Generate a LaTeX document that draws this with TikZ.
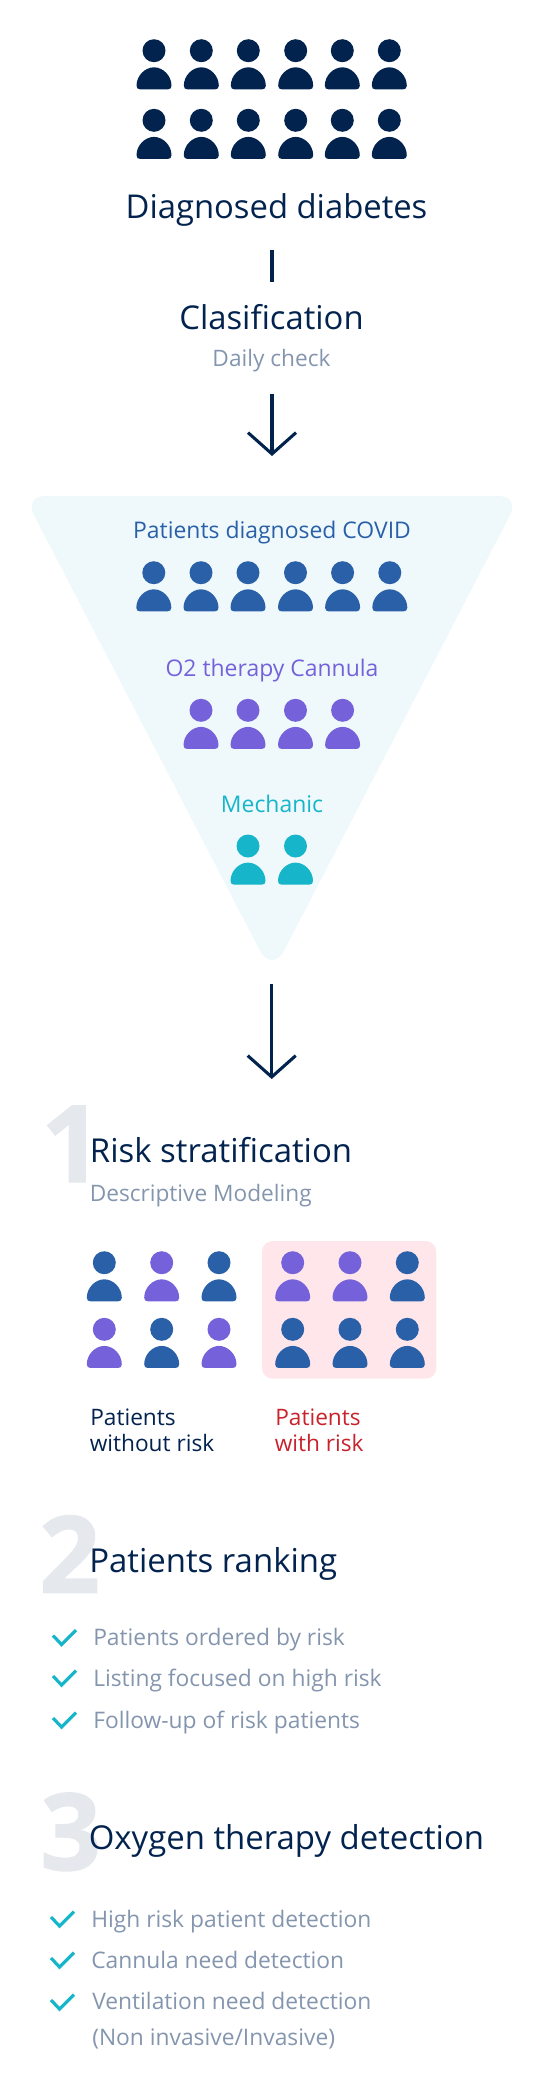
\documentclass[tikz,border=0pt]{standalone}
\usepackage{xcolor}
\usepackage{fontspec}
\usepackage{tikz}
\usetikzlibrary{arrows.meta, positioning}
\setmainfont{Open Sans}
\newfontfamily\numfont[BoldFeatures={FakeBold=1.2}]{Open Sans}
\definecolor{mynavy}{RGB}{3,35,79}
\definecolor{myblue}{RGB}{42,96,168}
\definecolor{mypurple}{RGB}{117,98,218}
\definecolor{myteal}{RGB}{23,181,201}
\definecolor{mygrey}{RGB}{132,149,174}
\definecolor{myred}{RGB}{200,35,44}
\definecolor{numgrey}{RGB}{229,232,237}
\definecolor{hdrfunnel}{RGB}{239,249,252}
\definecolor{hdrpink}{RGB}{255,230,234}
\tikzset{
  patient/.pic={
    \fill[pic actions] (0,0) circle (11.5);
    \fill[pic actions] (-17.5,35) .. controls (-17.5,25) and (-9,16.6) .. (0,16.6)
      .. controls (9,16.6) and (17.5,25) .. (17.5,35)
      .. controls (17.5,37.5) and (16,38.6) .. (14,38.6) -- (-14,38.6)
      .. controls (-16,38.6) and (-17.5,37.5) .. (-17.5,35) -- cycle;
  },
  navyp/.style={fill=mynavy},
  bluep/.style={fill=myblue},
  purp/.style={fill=mypurple},
  tealp/.style={fill=myteal},
  title/.style={anchor=base, color=mynavy, inner sep=0pt, font=\fontsize{24.6}{28}\selectfont},
  head/.style={anchor=base west, color=mynavy, inner sep=0pt, font=\fontsize{24.7}{28}\selectfont},
  subhead/.style={anchor=base west, color=mygrey, inner sep=0pt, font=\fontsize{17}{20}\selectfont},
  funlabel/.style={anchor=base, inner sep=0pt, font=\fontsize{17.2}{20}\selectfont},
  risklabel/.style={anchor=base west, inner sep=0pt, font=\fontsize{17}{20}\selectfont},
  item/.style={anchor=base west, color=mygrey, inner sep=0pt, font=\fontsize{17.1}{20}\selectfont},
  bignum/.style={anchor=base west, color=numgrey, inner sep=0pt, font=\fontsize{80}{90}\numfont\bfseries\selectfont},
  check/.style={color=myteal, line width=2.4pt},
  arrow/.style={-{Straight Barb[length=16pt,width=36pt,line width=2.3pt]}, line width=2.3pt, color=mynavy},
  line/.style={line width=2.3pt, color=mynavy}
}
\begin{document}
\begin{tikzpicture}[x=0.75pt, y=-0.75pt]
  \useasboundingbox (0,0) rectangle (542,2096);
  % Diagnosed group
  \pic[navyp] at (154,50.7) {patient};  \pic[navyp] at (201.3,50.7) {patient};  \pic[navyp] at (248.3,50.7) {patient};
  \pic[navyp] at (295.7,50.7) {patient};  \pic[navyp] at (342.3,50.7) {patient};  \pic[navyp] at (389.3,50.7) {patient};
  \pic[navyp] at (154,120.3) {patient};  \pic[navyp] at (201.3,120.3) {patient};  \pic[navyp] at (248.3,120.3) {patient};
  \pic[navyp] at (295.7,120.3) {patient};  \pic[navyp] at (342.3,120.3) {patient};  \pic[navyp] at (389.3,120.3) {patient};
  \node[title] (diagnosed) at (276.5,218.3) {Diagnosed diabetes};
  % Clasification
  \coordinate (linetop) at (272,250);
  \coordinate (linebot) at (272,282.3);
  \draw[line] (linetop) -- (linebot);
  \node[title] (clasif) at (271.5,329) {Clasification};
  \node[subhead, anchor=base] (daily) at (271.5,366.7) {Daily check};
  \coordinate (arrowa) at (272,394);
  \coordinate (arrowb) at (272,456);
  \draw[arrow] (arrowa) -- (arrowb);
  % Funnel
  \fill[hdrfunnel, rounded corners=16] (24,496) -- (520,496) [rounded corners=20] -- (272,974) [rounded corners=16] -- cycle;
  \node[funlabel, color=myblue] (covid) at (272,538.7) {Patients diagnosed COVID};
  \pic[bluep] at (153.8,572.7) {patient};  \pic[bluep] at (201,572.7) {patient};  \pic[bluep] at (248,572.7) {patient};
  \pic[bluep] at (295.5,572.7) {patient};  \pic[bluep] at (342.6,572.7) {patient};  \pic[bluep] at (389.8,572.7) {patient};
  \node[funlabel, color=mypurple] (cannula) at (272,676.7) {O2 therapy Cannula};
  \pic[purp] at (201,710.3) {patient};  \pic[purp] at (248,710.3) {patient};
  \pic[purp] at (295.5,710.3) {patient};  \pic[purp] at (342.6,710.3) {patient};
  \node[funlabel, color=myteal] (mechanic) at (272,812.7) {Mechanic};
  \pic[tealp] at (248,846) {patient};  \pic[tealp] at (295.5,846) {patient};
  \coordinate (arrowc) at (271.7,984.3);
  \coordinate (arrowd) at (271.7,1079);
  \draw[arrow] (arrowc) -- (arrowd);
  % Section 1
  \node[bignum] (numone) at (41,1182) {1};
  \node[head] (risk) at (89.7,1162.3) {Risk stratification};
  \node[subhead] (descr) at (89.5,1201.7) {Descriptive Modeling};
  \fill[hdrpink, rounded corners=8] (262,1241) rectangle (436.3,1378.7);
  \pic[bluep] at (104.3,1262.7) {patient};  \pic[purp] at (161.7,1262.7) {patient};  \pic[bluep] at (219,1262.7) {patient};
  \pic[purp] at (104.3,1329.3) {patient};  \pic[bluep] at (161.7,1329.3) {patient};  \pic[purp] at (219,1329.3) {patient};
  \pic[purp] at (292.7,1262.7) {patient};  \pic[purp] at (350,1262.7) {patient};  \pic[bluep] at (407.3,1262.7) {patient};
  \pic[bluep] at (292.7,1329.3) {patient};  \pic[bluep] at (350,1329.3) {patient};  \pic[bluep] at (407.3,1329.3) {patient};
  \node[risklabel, color=mynavy] (norisk) at (90,1425) {Patients};
  \node[risklabel, color=mynavy] (norisktwo) at (89.5,1451.7) {without risk};
  \node[risklabel, color=myred] (withrisk) at (275,1425) {Patients};
  \node[risklabel, color=myred] (withrisktwo) at (274.5,1451.7) {with risk};
  % Section 2
  \node[bignum] (numtwo) at (39,1592.6) {2};
  \node[head] (ranking) at (89,1572.3) {Patients ranking};
  \draw[check] (53,1635.5) -- (61.5,1644.5) -- (76,1630);
  \node[item] (ordered) at (93,1645.8) {Patients ordered by risk};
  \draw[check] (53,1676) -- (61.5,1685) -- (76,1670.5);
  \node[item] (listing) at (93,1686.7) {Listing focused on high risk};
  \draw[check] (53,1718) -- (61.5,1727) -- (76,1712.5);
  \node[item] (followup) at (93,1728.4) {Follow-up of risk patients};
  % Section 3
  \node[bignum] (numthree) at (40,1870) {3};
  \node[head] (oxygen) at (88.5,1849.7) {Oxygen therapy detection};
  \draw[check] (51,1917) -- (59.5,1926) -- (74,1911.5);
  \node[item] (highrisk) at (91,1927.4) {High risk patient detection};
  \draw[check] (51,1958) -- (59.5,1967) -- (74,1952.5);
  \node[item] (needcan) at (91,1968.4) {Cannula need detection};
  \draw[check] (51,2000) -- (59.5,2009) -- (74,1994.5);
  \node[item] (needvent) at (92,2009.7) {Ventilation need detection};
  \node[item] (invasive) at (92,2045.7) {(Non invasive/Invasive)};
\end{tikzpicture}
\end{document}
